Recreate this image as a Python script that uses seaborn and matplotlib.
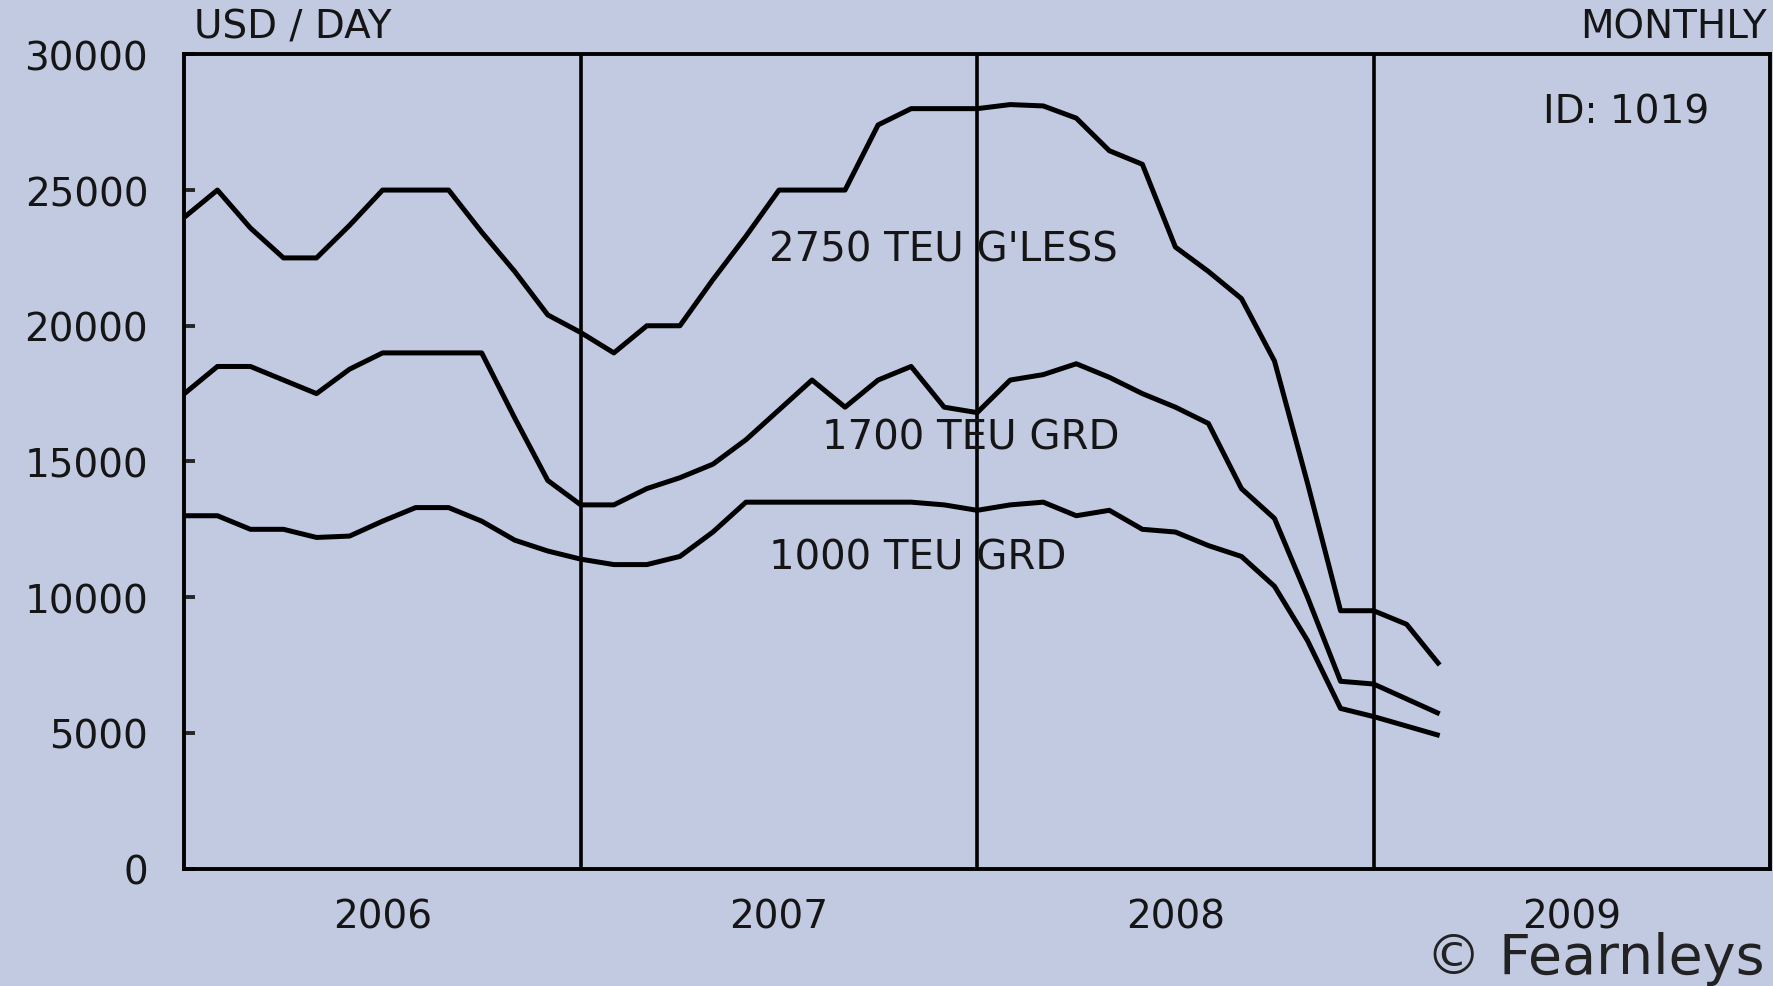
import numpy as np
import pandas as pd
import seaborn as sns
import matplotlib
matplotlib.use("Agg")
import matplotlib.pyplot as plt

# valeurs mensuelles, janvier 2006 -> mars 2009 (USD / jour)
mois = list(range(39))
teu_2750 = [24000, 25000, 23600, 22500, 22500, 23700, 25000, 25000, 25000, 23450,
            22000, 20400, 19750, 19000, 20000, 20000, 21700, 23300, 25000, 25000,
            25000, 27400, 28000, 28000, 28000, 28150, 28100, 27650, 26450, 25950,
            22900, 22000, 21000, 18700, 14200, 9500, 9500, 9000, 7500]
teu_1700 = [17500, 18500, 18500, 18000, 17500, 18400, 19000, 19000, 19000, 19000,
            16600, 14300, 13400, 13400, 14000, 14400, 14900, 15800, 16900, 18000,
            17000, 18000, 18500, 17000, 16800, 18000, 18200, 18600, 18100, 17500,
            17000, 16400, 14000, 12900, 10000, 6900, 6800, 6250, 5700]
teu_1000 = [13000, 13000, 12500, 12500, 12200, 12250, 12800, 13300, 13300, 12800,
            12100, 11700, 11400, 11200, 11200, 11500, 12400, 13500, 13500, 13500,
            13500, 13500, 13500, 13400, 13200, 13400, 13500, 13000, 13200, 12500,
            12400, 11900, 11500, 10400, 8400, 5900, 5600, 5250, 4900]

series_labels = ["2750 TEU G'LESS", "1700 TEU GRD", "1000 TEU GRD"]
label_pos = [(17.7, 22800), (19.3, 15900), (17.7, 11450)]
annees = ["2006", "2007", "2008", "2009"]
y_ticks = [0, 5000, 10000, 15000, 20000, 25000, 30000]

fond = "#C2CAE2"
encre = "#151515"

sns.set_style("white", {"axes.facecolor": fond, "figure.facecolor": fond,
                        "axes.edgecolor": "black"})
plt.rcParams['font.family'] = ['DejaVu Sans']

fig = plt.figure(figsize=(17.73, 9.87), dpi=100)
ax = fig.add_axes([0.104, 0.119, 0.8943, 0.8249])

df = pd.DataFrame({"mois": mois * 3,
                   "usd": teu_2750 + teu_1700 + teu_1000,
                   "type": sum([[s] * len(mois) for s in series_labels], [])})
sns.lineplot(data=df, x="mois", y="usd", hue="type",
             palette=["black"] * 3, linewidth=3.6, legend=False, ax=ax,
             solid_joinstyle="round", solid_capstyle="butt")

# separations entre annees
for k in range(1, len(annees)):
    ax.axvline(12 * k, color="black", lw=2.6, zorder=1)

for lab, (xx, yy) in zip(series_labels, label_pos):
    ax.text(xx, yy, lab, fontsize=29, color=encre, ha="left", va="center")

ax.set_xlim(0, 48)
ax.set_ylim(0, 30000)
ax.set_yticks(y_ticks)
ax.set_yticklabels([str(v) for v in y_ticks], fontsize=28, color=encre)
ax.set_xticks([6 + 12 * k for k in range(len(annees))])
ax.set_xticklabels(annees, fontsize=28, color=encre)
ax.tick_params(axis="y", direction="in", length=8, width=2.8, pad=26, left=True)
ax.tick_params(axis="x", length=0, pad=21)
ax.set_xlabel("")
ax.set_ylabel("")
for sp in ax.spines.values():
    sp.set_visible(True)
    sp.set_linewidth(2.8)
    sp.set_color("black")

fig.text(0.1094, 0.9726, "USD / DAY", fontsize=28, color=encre, ha="left", va="center")
fig.text(0.9966, 0.9726, "MONTHLY", fontsize=28, color=encre, ha="right", va="center")
fig.text(0.8703, 0.8865, "ID: 1019", fontsize=28, color=encre, ha="left", va="center")
fig.text(0.995, 0.001, "© Fearnleys", fontsize=40, color="#222222", ha="right", va="bottom")

fig.savefig("out.png", dpi=100, facecolor=fond)
